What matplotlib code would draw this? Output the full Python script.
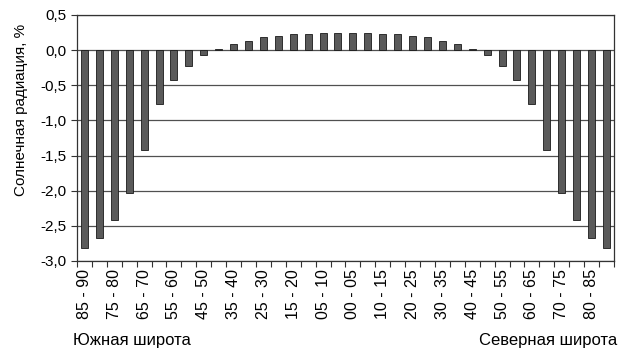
import matplotlib
matplotlib.use("Agg")
import matplotlib.pyplot as plt
import numpy as np

plt.rcParams["font.family"] = ["Liberation Sans", "DejaVu Sans"]

south = ["85 - 90", "80 - 85", "75 - 80", "70 - 75", "65 - 70", "60 - 65",
         "55 - 60", "50 - 55", "45 - 50", "40 - 45", "35 - 40", "30 - 35",
         "25 - 30", "20 - 25", "15 - 20", "10 - 15", "05 - 10", "00 - 05"]
north = south[::-1]
categories = south + north

south_values = [-2.82, -2.68, -2.41, -2.03, -1.42, -0.76, -0.43, -0.22, -0.07,
                0.01, 0.09, 0.13, 0.19, 0.20, 0.23, 0.23, 0.25, 0.25]
values = south_values + south_values[::-1]

y_ticks = [0.5, 0.0, -0.5, -1.0, -1.5, -2.0, -2.5, -3.0]

fig = plt.figure(figsize=(6.29, 3.57), dpi=100)
ax = fig.add_axes([0.1224, 0.269, 0.8536, 0.689])

x = np.arange(len(categories))
ax.bar(x, values, width=0.47, color="#5a5a5a", edgecolor="#1a1a1a",
       linewidth=0.6, zorder=3)

ax.set_xlim(-0.5, len(categories) - 0.5)
ax.set_ylim(-3.0, 0.5)
ax.set_yticks(y_ticks)
ax.set_yticklabels([f"{v:.1f}".replace(".", ",") for v in y_ticks], fontsize=11)
ax.yaxis.grid(True, color="#505050", linewidth=0.9, zorder=0)

ax.set_xticks(x)
ax.set_xticklabels([c if i % 2 == 0 else "" for i, c in enumerate(categories)],
                   rotation=90, fontsize=11.5)
ax.tick_params(axis="x", which="major", length=0, pad=6)
ax.set_xticks(np.arange(-0.5, len(categories), 1.0), minor=True)
ax.tick_params(axis="x", which="minor", length=4, width=0.8, color="#333333")
ax.tick_params(axis="y", length=4, width=0.8, color="#333333")

for s in ax.spines.values():
    s.set_color("#333333")
    s.set_linewidth(0.9)

ax.set_ylabel("Солнечная радиация, %", fontsize=11)
ax.yaxis.set_label_coords(-0.092, 0.615)

fig.text(0.116, 0.034, "Южная широта", fontsize=12, ha="left", va="baseline")
fig.text(0.981, 0.034, "Северная широта", fontsize=12, ha="right", va="baseline")

fig.savefig("out.png", dpi=100)
